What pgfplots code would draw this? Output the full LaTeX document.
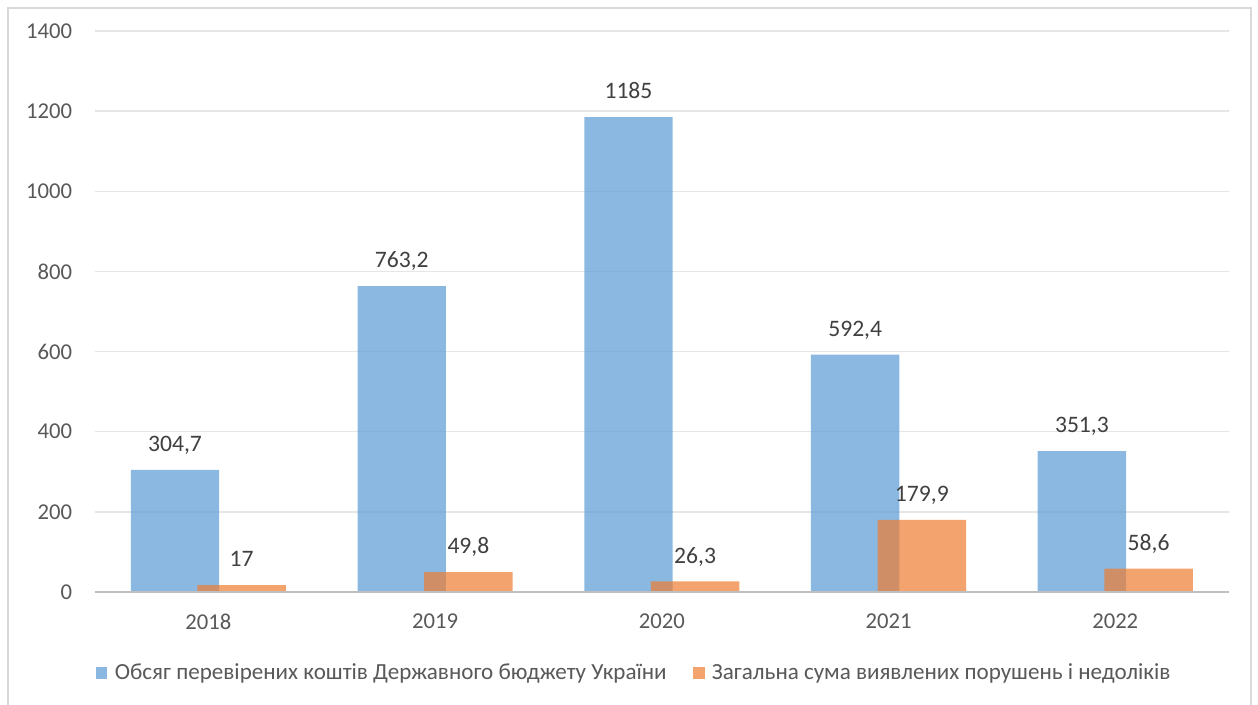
\documentclass[border=0pt]{standalone}
\usepackage{pgfplots}
\pgfplotsset{compat=1.18}
\usepackage{fontspec}
\setmainfont{Carlito}
\definecolor{bblue}{HTML}{5B9BD5}
\definecolor{borange}{HTML}{ED7D31}
\definecolor{ticktext}{HTML}{595959}
\definecolor{labtext}{HTML}{404040}
\definecolor{gridc}{HTML}{E6E6E6}
\definecolor{axisc}{HTML}{BFBFBF}
\definecolor{framec}{HTML}{D9D9D9}
\begin{document}
\begin{tikzpicture}
\useasboundingbox (0pt,0pt) rectangle (943.5pt,528.75pt);
\fill[white] (0pt,0pt) rectangle (943.5pt,528.75pt);
\begin{scope}
\clip (0pt,0pt) rectangle (943.5pt,528.75pt);
\draw[framec, line width=1.2pt] (6pt,-10pt) -- (6pt,522.75pt) -- (938.25pt,522.75pt) -- (938.25pt,-10pt);
\end{scope}
\begin{axis}[
  at={(71.25pt,84.75pt)}, anchor=south west,
  scale only axis,
  width=850.2pt, height=420.75pt,
  xmin=-0.5, xmax=4.5, ymin=0, ymax=1400,
  xtick={0,1,2,3,4},
  xticklabels={2018,2019,2020,2021,2022},
  ytick={0,200,400,600,800,1000,1200,1400},
  axis line style={draw=none},
  axis x line*=bottom, axis y line*=left,
  tick style={draw=none},
  major tick length=0pt,
  ymajorgrids, grid style={gridc, line width=1.1pt},
  /pgf/number format/.cd, use comma, 1000 sep={}, assume math mode=true,
  /pgfplots/.cd,
  ticklabel style={font=\fontsize{17pt}{20pt}\selectfont, text=ticktext},
  yticklabel style={anchor=east, inner sep=0pt, xshift=-17pt},
  xticklabel style={anchor=north, inner sep=0pt, yshift=-16.5pt},
  ybar, bar width=0.39,
  nodes near coords,
  every node near coord/.append style={font=\fontsize{17.7pt}{20pt}\selectfont, text=labtext, anchor=base, inner sep=0pt, yshift=13.8pt},
  legend columns=2,
  legend style={at={(0.476,-0.1444)}, anchor=center, draw=none, fill=none,
    font=\fontsize{17.3pt}{20pt}\selectfont, text=ticktext,
    /tikz/every even column/.append style={column sep=18pt}},
  legend image code/.code={\fill[#1] (0pt,-4.2pt) rectangle (8.4pt,4.2pt); \path (12pt,0pt);},
  clip=false,
]
\addplot[fill=bblue, fill opacity=0.7, draw=none, bar shift=-0.147, text opacity=1]
  coordinates {(0,304.7) (1,763.2) (2,1185) (3,592.4) (4,351.3)};
\addplot[fill=borange, fill opacity=0.7, draw=none, bar shift=0.147, text opacity=1]
  coordinates {(0,17) (1,49.8) (2,26.3) (3,179.9) (4,58.6)};
\legend{Обсяг перевірених коштів Державного бюджету України, Загальна сума виявлених порушень і недоліків}
\draw[axisc, line width=1.5pt] (axis cs:-0.5,0) -- (axis cs:4.5,0);
\end{axis}
\end{tikzpicture}
\end{document}
